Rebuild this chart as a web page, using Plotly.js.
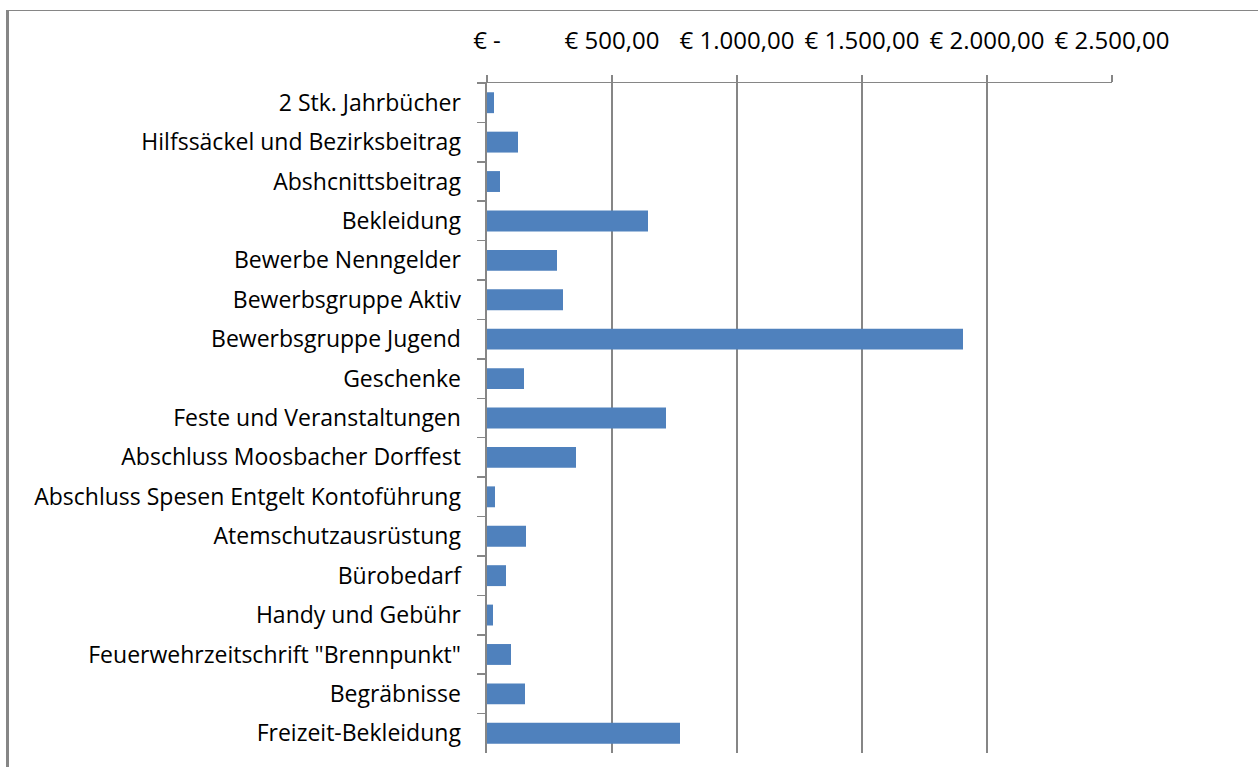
<!DOCTYPE html>
<html>
<head>
<meta charset="utf-8">
<script src="https://cdn.plot.ly/plotly-3.0.1.min.js"></script>
<style>
  html, body { margin: 0; padding: 0; background: #fff; overflow: hidden; }
  #chart { width: 1258px; height: 767px; position: absolute; left: 0; top: 0; }
  #frame { position: absolute; left: 6px; top: 10px; width: 1300px; height: 800px;
           border-left: 3px solid #868686; border-top: 1px solid #868686; pointer-events: none; }
</style>
</head>
<body>
<div id="chart"></div>
<div id="frame"></div>
<script>
const categories = [
  "2 Stk. Jahrbücher",
  "Hilfssäckel und Bezirksbeitrag",
  "Abshcnittsbeitrag",
  "Bekleidung",
  "Bewerbe Nenngelder",
  "Bewerbsgruppe Aktiv",
  "Bewerbsgruppe Jugend",
  "Geschenke",
  "Feste und Veranstaltungen",
  "Abschluss Moosbacher Dorffest",
  "Abschluss Spesen Entgelt Kontoführung",
  "Atemschutzausrüstung",
  "Bürobedarf",
  "Handy und Gebühr",
  "Feuerwehrzeitschrift \"Brennpunkt\"",
  "Begräbnisse",
  "Freizeit-Bekleidung"
];
const amounts = [28, 124, 52, 644, 280, 304, 1904, 148, 716, 356, 32, 156, 76, 24, 96, 152, 772];
const tickValues = [0, 500, 1000, 1500, 2000, 2500];
const tickLabels = ["€ -", "€ 500,00", "€ 1.000,00", "€ 1.500,00", "€ 2.000,00", "€ 2.500,00"];

const trace = {
  type: "bar",
  orientation: "h",
  y: categories,
  x: amounts,
  marker: { color: "#4f81bd" },
  hoverinfo: "x+y"
};

const layout = {
  width: 1258,
  height: 767,
  margin: { l: 487, r: 146, t: 83, b: 14, pad: 0 },
  paper_bgcolor: "#ffffff",
  plot_bgcolor: "#ffffff",
  showlegend: false,
  bargap: 0.47,
  font: { family: "'Open Sans', sans-serif", size: 23, color: "#000000" },
  xaxis: {
    side: "top",
    range: [0, 2500],
    tickvals: tickValues,
    ticktext: tickLabels,
    showgrid: true,
    gridcolor: "#868686",
    gridwidth: 1.5,
    zeroline: false,
    showline: true,
    linecolor: "#868686",
    linewidth: 1.5,
    ticks: "outside",
    ticklen: 7,
    tickcolor: "#868686",
    tickwidth: 1.5,
    ticklabelstandoff: 16,
    tickfont: { family: "'Open Sans', sans-serif", size: 24, color: "#000000" },
    fixedrange: true
  },
  yaxis: {
    type: "category",
    autorange: "reversed",
    tickson: "boundaries",
    ticks: "outside",
    ticklen: 8,
    tickcolor: "#868686",
    tickwidth: 1.5,
    showgrid: false,
    zeroline: false,
    showline: true,
    linecolor: "#868686",
    linewidth: 2.5,
    ticklabelstandoff: 19,
    tickfont: { family: "'Open Sans', sans-serif", size: 23, color: "#000000" },
    fixedrange: true
  }
};

Plotly.newPlot("chart", [trace], layout, { displayModeBar: false, staticPlot: true });
</script>
</body>
</html>
